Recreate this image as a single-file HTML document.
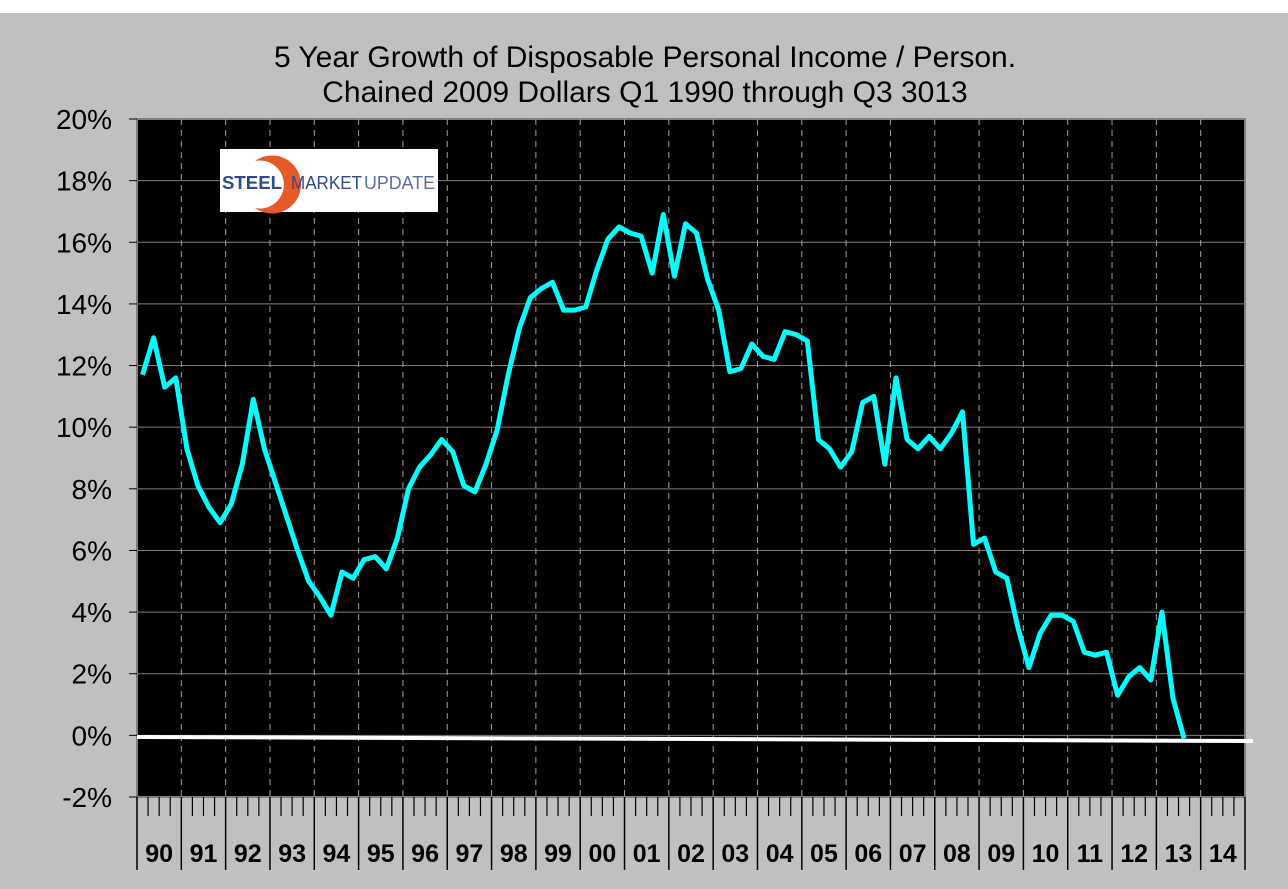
<!DOCTYPE html>
<html><head><meta charset="utf-8"><style>
html,body{margin:0;padding:0;background:#fff;}
#wrap{position:relative;width:1288px;height:889px;overflow:hidden;}
svg{display:block;font-family:"Liberation Sans",Arial,sans-serif;}
</style></head><body>
<div id="wrap">
<svg id="chart" width="1288" height="889">
<rect x="0" y="13" width="1288" height="876" fill="#c0c0c0"/>
<text x="645" y="67" font-size="30" text-anchor="middle">5 Year Growth of Disposable Personal Income / Person.</text>
<text x="645" y="102" font-size="30" text-anchor="middle">Chained 2009 Dollars Q1 1990 through Q3 3013</text>
<rect x="137" y="119" width="1108" height="678" fill="#000" stroke="#808080" stroke-width="2"/>
<g id="grid"></g>
<g id="xaxis"></g>
<g id="yaxis"></g>
<g id="logo">
<rect x="220" y="149" width="218" height="63" fill="#fff"/>
<path d="M 255 161 A 29 29 0 1 1 255 208 A 24 24 0 1 0 255 161 Z" fill="#e65a28"/>
<text x="222" y="189" font-size="18" font-weight="bold" fill="#2c4a8c" textLength="60" lengthAdjust="spacingAndGlyphs">STEEL</text>
<text x="291" y="189" font-size="18" fill="#2c4a8c" textLength="71" lengthAdjust="spacingAndGlyphs">MARKET</text>
<text x="364" y="189" font-size="18" fill="#5c6ea8" textLength="71" lengthAdjust="spacingAndGlyphs">UPDATE</text>
</g>
<line x1="137" y1="737" x2="1253" y2="741" stroke="#fff" stroke-width="4"/>
<path id="series" fill="none" stroke="#00ffff" stroke-width="5" stroke-linejoin="round"/>
</svg>
</div>
<script>
const years = ["90","91","92","93","94","95","96","97","98","99","00","01","02","03","04","05","06","07","08","09","10","11","12","13","14"];
const yTicks = [-2,0,2,4,6,8,10,12,14,16,18,20];
const growthValues = [11.7,12.9,11.3,11.6, 9.3,8.1,7.4,6.9, 7.5,8.8,10.9,9.3, 8.2,7.1,6.0,5.0,
 4.5,3.9,5.3,5.1, 5.7,5.8,5.4,6.4, 8.0,8.7,9.1,9.6, 9.2,8.1,7.9,8.8, 9.9,11.7,13.2,14.2,
 14.5,14.7,13.8,13.8, 13.9,15.1,16.1,16.5,
 16.3,16.2,15.0,16.9,14.9,16.6,16.3,14.8,13.8,11.8,11.9,12.7,12.3,12.2,13.1,13.0,12.8,9.6,9.3,8.7,
 9.2,10.8,11.0,8.8,11.6,9.6,9.3,9.7,9.3,9.8,10.5,6.2,6.4,5.3,5.1,3.5,2.2,3.3,3.9,3.9,3.7,2.7,2.6,2.7,
 1.3,1.9,2.2,1.8,4.0,1.2,-0.1];
const NS="http://www.w3.org/2000/svg";
const L=137,R=1245,T=119,B=797,ymin=-2,ymax=20;
const nq=years.length*4, qw=(R-L)/nq;
function xq(i){return L+(i+0.5)*qw;}
function yv(v){return B-(v-ymin)/(ymax-ymin)*(B-T);}
function mk(tag,attrs,parent){const e=document.createElementNS(NS,tag);for(const k in attrs)e.setAttribute(k,attrs[k]);parent.appendChild(e);return e;}
const grid=document.getElementById('grid'),xa=document.getElementById('xaxis'),ya=document.getElementById('yaxis');
yTicks.forEach(v=>{
  const y=yv(v);
  if(v>ymin&&v<ymax){const g=mk('line',{x1:L,x2:R,y1:y,y2:y,stroke:'#808080','stroke-width':1},grid);
  
  }
  const tk=mk('line',{x1:L-8,x2:L,y1:y,y2:y,stroke:'#000','stroke-width':1},ya);
  
  
  const t=mk('text',{x:112,y:y+10,'font-size':28,'text-anchor':'end'},ya);
  t.textContent=v+'%';
  
  
});
for(let q=0;q<=nq;q++){
  const x=L+q*qw;
  if(q%4===0){
    if(q>0&&q<nq){const d=mk('line',{x1:x,x2:x,y1:T,y2:B,stroke:'#a0a0a0','stroke-width':1,'stroke-dasharray':'6,5'},grid);
    
    }
    const m=mk('line',{x1:x,x2:x,y1:B,y2:870,stroke:'#000','stroke-width':1.5},xa);
    
    
  } else {
    const m=mk('line',{x1:x,x2:x,y1:B,y2:816,stroke:'#000','stroke-width':1.2},xa);
    
    
  }
}
years.forEach((yr,i)=>{
  const t=mk('text',{x:L+(i*4+2)*qw,y:862,'font-size':25,'font-weight':'bold','text-anchor':'middle'},xa);
  t.textContent=yr;
  
  
});
document.getElementById('series').setAttribute('d',growthValues.map((v,i)=>(i?'L':'M')+xq(i).toFixed(1)+' '+yv(v).toFixed(1)).join(' '));
</script>
</body></html>
